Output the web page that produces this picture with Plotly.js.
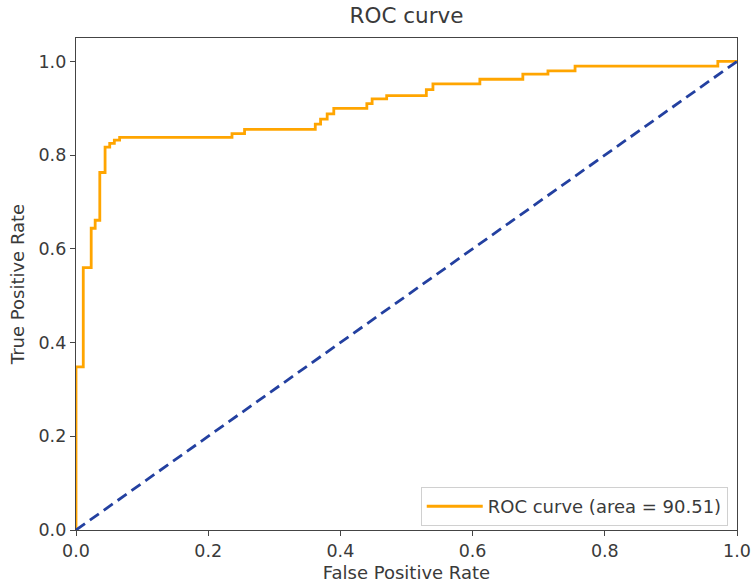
<!DOCTYPE html>
<html>
<head>
<meta charset="utf-8">
<script src="https://cdn.plot.ly/plotly-3.0.1.min.js"></script>
<style>html,body{margin:0;padding:0;background:#fff;}#chart{width:755px;height:587px;}</style>
</head>
<body>
<div id="chart"></div>
<script>
const fpr = [0, 0, 0.011, 0.011, 0.023, 0.023, 0.029, 0.029, 0.036, 0.036, 0.044, 0.044, 0.051, 0.051, 0.058, 0.058, 0.066, 0.066, 0.236, 0.236, 0.255, 0.255, 0.362, 0.362, 0.37, 0.37, 0.38, 0.38, 0.39, 0.39, 0.44, 0.44, 0.448, 0.448, 0.47, 0.47, 0.53, 0.53, 0.54, 0.54, 0.611, 0.611, 0.676, 0.676, 0.714, 0.714, 0.755, 0.755, 0.971, 0.971, 1.0];
const tpr = [0, 0.348, 0.348, 0.56, 0.56, 0.644, 0.644, 0.661, 0.661, 0.763, 0.763, 0.817, 0.817, 0.825, 0.825, 0.832, 0.832, 0.838, 0.838, 0.846, 0.846, 0.855, 0.855, 0.866, 0.866, 0.877, 0.877, 0.888, 0.888, 0.9, 0.9, 0.91, 0.91, 0.92, 0.92, 0.927, 0.927, 0.94, 0.94, 0.952, 0.952, 0.962, 0.962, 0.973, 0.973, 0.98, 0.98, 0.99, 0.99, 1.0, 1.0];
const diagX = [0, 1];
const diagY = [0, 1];
const curveName = 'ROC curve (area = 90.51)';
const xTicks = [0, 0.2, 0.4, 0.6, 0.8, 1.0];
const yTicks = [0, 0.2, 0.4, 0.6, 0.8, 1.0];

const fam = 'DejaVu Sans, sans-serif';
const tickFont = {family: fam, size: 17.5, color: '#3a3a3a'};
const labelFont = {family: fam, size: 18, color: '#3a3a3a'};
const traces = [
  {x: fpr, y: tpr, mode: 'lines', name: curveName, line: {color: '#FFA500', width: 2.8}},
  {x: diagX, y: diagY, mode: 'lines', showlegend: false, line: {color: '#2340a0', width: 2.8, dash: '11px,6px'}}
];
const layout = {
  width: 755, height: 587,
  margin: {l: 76, r: 18, t: 38, b: 57},
  paper_bgcolor: '#fff', plot_bgcolor: '#fff',
  font: labelFont,
  title: {text: 'ROC curve', font: {family: fam, size: 21.5, color: '#3a3a3a'}, xref: 'paper', x: 0.5, xanchor: 'center', y: 0.974, yanchor: 'middle'},
  xaxis: {range: [0, 1], tickvals: xTicks, tickformat: '.1f', ticks: 'outside', ticklen: 5, tickcolor: '#444', tickfont: tickFont,
          showline: true, linecolor: '#444', linewidth: 1.2, mirror: true, showgrid: false, zeroline: false,
          title: {text: 'False Positive Rate', font: labelFont, standoff: 6}},
  yaxis: {range: [0, 1.05], tickvals: yTicks, tickformat: '.1f', ticks: 'outside', ticklen: 5, tickcolor: '#444', tickfont: tickFont,
          showline: true, linecolor: '#444', linewidth: 1.2, mirror: true, showgrid: false, zeroline: false,
          title: {text: 'True Positive Rate', font: labelFont, standoff: 9}},
  legend: {x: 0.986, y: 0.008, xanchor: 'right', yanchor: 'bottom', bgcolor: 'rgba(255,255,255,0.8)', itemwidth: 56,
           bordercolor: '#d0d0d0', borderwidth: 1, font: {family: fam, size: 18, color: '#3a3a3a'}}
};
Plotly.newPlot('chart', traces, layout, {displayModeBar: false, staticPlot: true});
</script>
</body>
</html>
